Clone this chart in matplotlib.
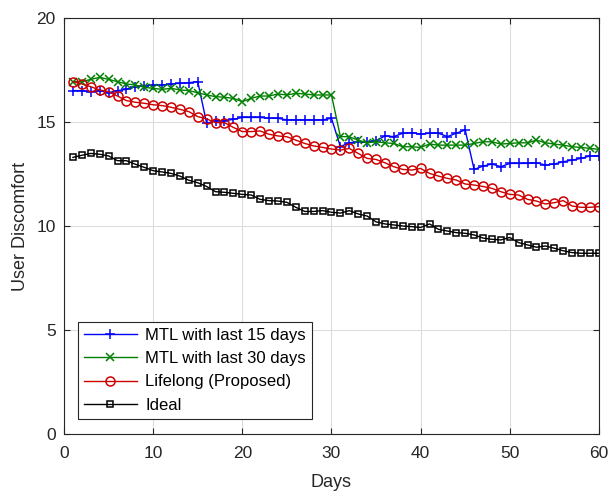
import numpy as np
import matplotlib
matplotlib.use("Agg")
import matplotlib.pyplot as plt

# ── Datos ────────────────────────────────────────────────────────────────────
days = np.arange(1, 61)

mtl_15 = [16.51, 16.51, 16.46, 16.51, 16.41, 16.51, 16.57, 16.70, 16.73, 16.78,
          16.78, 16.83, 16.86, 16.89, 16.94, 14.94, 15.06, 15.06, 15.13, 15.22,
          15.22, 15.22, 15.18, 15.18, 15.10, 15.10, 15.10, 15.10, 15.10, 15.18,
          13.82, 14.00, 14.05, 14.05, 14.10, 14.33, 14.30, 14.46, 14.49, 14.42,
          14.46, 14.46, 14.30, 14.46, 14.62, 12.72, 12.88, 12.98, 12.85, 13.01,
          13.01, 13.01, 13.04, 12.93, 12.98, 13.09, 13.17, 13.25, 13.37, 13.37]

mtl_30 = [16.94, 16.94, 17.05, 17.15, 17.05, 16.94, 16.83, 16.78, 16.67, 16.62,
          16.57, 16.62, 16.54, 16.51, 16.41, 16.30, 16.22, 16.19, 16.14, 15.98,
          16.14, 16.25, 16.25, 16.35, 16.30, 16.38, 16.35, 16.30, 16.30, 16.30,
          14.30, 14.29, 14.13, 14.00, 14.05, 14.00, 13.97, 13.81, 13.81, 13.78,
          13.94, 13.89, 13.89, 13.89, 13.89, 13.97, 14.05, 14.05, 13.94, 13.97,
          14.00, 14.00, 14.13, 14.00, 13.94, 13.89, 13.81, 13.78, 13.73, 13.69]

lifelong = [16.94, 16.83, 16.70, 16.54, 16.46, 16.25, 16.03, 15.95, 15.90, 15.83,
            15.79, 15.71, 15.61, 15.50, 15.26, 15.15, 14.97, 14.97, 14.74, 14.54,
            14.54, 14.57, 14.41, 14.33, 14.29, 14.13, 13.97, 13.85, 13.78, 13.70,
            13.65, 13.73, 13.49, 13.25, 13.20, 13.04, 12.85, 12.72, 12.69, 12.77,
            12.53, 12.40, 12.29, 12.21, 12.02, 11.97, 11.90, 11.81, 11.65, 11.52,
            11.49, 11.28, 11.20, 11.06, 11.12, 11.22, 10.96, 10.90, 10.90, 10.93]

ideal = [13.30, 13.40, 13.49, 13.45, 13.37, 13.14, 13.14, 12.97, 12.82, 12.66,
         12.60, 12.53, 12.40, 12.20, 12.08, 11.90, 11.65, 11.62, 11.57, 11.52,
         11.49, 11.28, 11.22, 11.20, 11.14, 10.90, 10.70, 10.70, 10.74, 10.66,
         10.62, 10.74, 10.58, 10.48, 10.20, 10.10, 10.05, 10.00, 9.97, 9.93,
         10.10, 9.84, 9.76, 9.68, 9.65, 9.57, 9.42, 9.36, 9.33, 9.45,
         9.20, 9.09, 8.98, 9.04, 8.93, 8.81, 8.72, 8.69, 8.69, 8.69]

labels = ["MTL with last 15 days", "MTL with last 30 days",
          "Lifelong (Proposed)", "Ideal"]

# ── Figura ───────────────────────────────────────────────────────────────────
plt.rcParams["font.family"] = ["Liberation Sans", "DejaVu Sans"]

fig = plt.figure(figsize=(6.12, 4.94), dpi=100)
ax = fig.add_axes([0.1046, 0.1215, 0.874, 0.842])

ax.plot(days, mtl_15, color="#0000ff", lw=1.0, marker="+", ms=7.5, mew=1.1, label=labels[0])
ax.plot(days, mtl_30, color="#008000", lw=1.0, marker="x", ms=5.5, mew=1.1, label=labels[1])
ax.plot(days, lifelong, color="#cc0000", lw=1.0, marker="o", ms=6.5, mew=1.1,
        mfc="none", label=labels[2])
ax.plot(days, ideal, color="black", lw=1.0, marker="s", ms=5, mew=1.1,
        mfc="none", label=labels[3])

ax.set_xlim(0, 60)
ax.set_ylim(0, 20)
ax.set_xticks(np.arange(0, 61, 10))
ax.set_yticks(np.arange(0, 21, 5))
ax.grid(True, color="#dcdcdc", lw=0.8)
ax.set_axisbelow(True)
ax.tick_params(direction="in", top=True, right=True, labelsize=12.5, length=4,
               color="#262626", labelcolor="#262626")
ax.tick_params(axis="x", pad=9)
ax.tick_params(axis="y", pad=6)
for s in ax.spines.values():
    s.set_color("#262626")
    s.set_linewidth(0.8)

ax.set_xlabel("Days", fontsize=13, color="#262626", labelpad=9)
ax.set_ylabel("User Discomfort", fontsize=13, color="#262626", labelpad=5)

leg = ax.legend(loc="lower left", bbox_to_anchor=(0.026, 0.037), fontsize=12,
                fancybox=False, framealpha=1, edgecolor="#262626",
                handlelength=3.2, borderpad=0.35, labelspacing=0.5,
                handletextpad=0.5, borderaxespad=0)
leg.get_frame().set_linewidth(0.8)

fig.savefig("out.png", dpi=100)
